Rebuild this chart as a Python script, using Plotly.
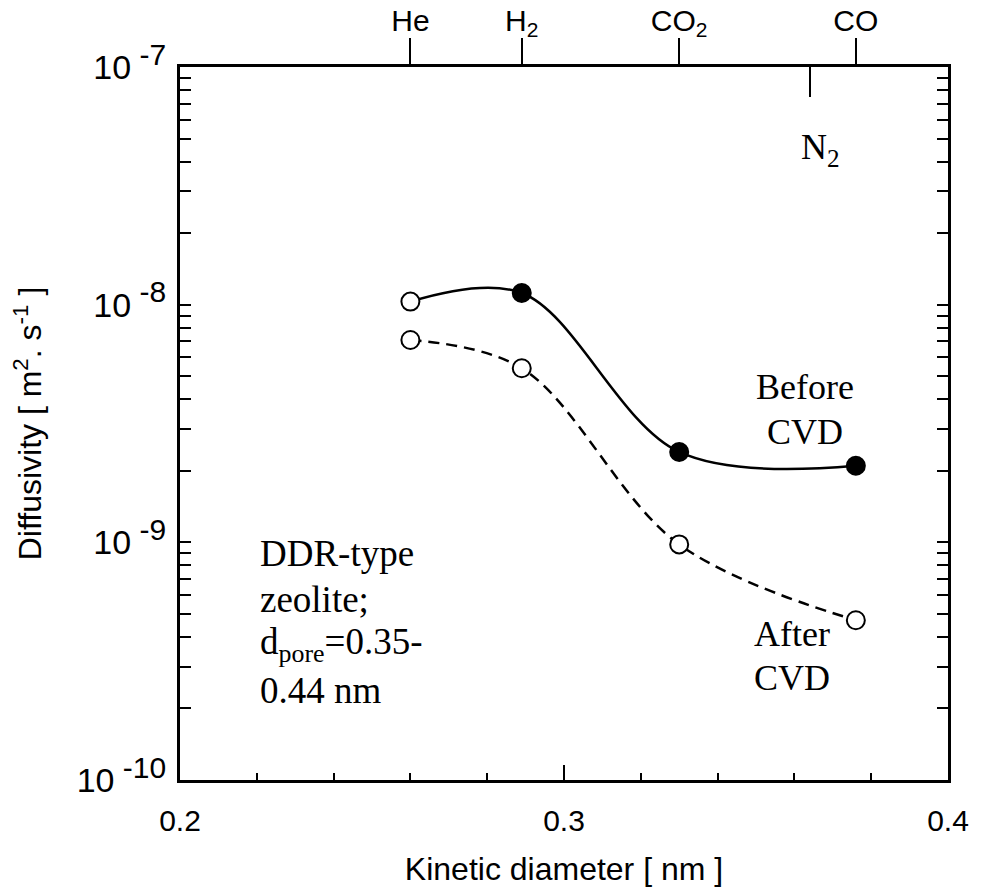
import plotly.graph_objects as go

gases = ["He", "H<sub>2</sub>", "CO<sub>2</sub>", "CO"]
kinetic_diameter = [0.26, 0.289, 0.33, 0.376]
before_cvd = [1.03e-8, 1.12e-8, 2.4e-9, 2.1e-9]
after_cvd = [7.1e-9, 5.4e-9, 9.8e-10, 4.7e-10]
before_fill = ["white", "black", "black", "black"]
n2_diameter = [0.364]
y_tickvals = [1e-10, 1e-9, 1e-8, 1e-7]
y_exponents = ["-10", "-9", "-8", "-7"]
y_ticktext = ["10<sup><span style='font-size:30px'> " + e + "</span></sup>" for e in y_exponents]
y_minor = [m * d for d in [1e-10, 1e-9, 1e-8] for m in range(2, 10)]
x_minor = [0.22, 0.24, 0.26, 0.28, 0.32, 0.34, 0.36, 0.38]

SANS = "Liberation Sans, Arial, sans-serif"
SERIF = "Liberation Serif, Times New Roman, serif"

fig = go.Figure()

fig.add_trace(go.Scatter(
    x=kinetic_diameter, y=before_cvd, mode="lines+markers",
    line=dict(color="black", width=2.5, shape="spline", smoothing=1),
    marker=dict(size=18, color=before_fill, line=dict(color="black", width=2)),
    showlegend=False,
))
fig.add_trace(go.Scatter(
    x=kinetic_diameter, y=after_cvd, mode="lines+markers",
    line=dict(color="black", width=2.5, shape="spline", smoothing=1, dash="11px,7px"),
    marker=dict(size=18, color="white", line=dict(color="black", width=2)),
    showlegend=False,
))
# invisible traces to activate top axes
fig.add_trace(go.Scatter(x=kinetic_diameter, y=before_cvd, xaxis="x2", mode="markers",
                         marker=dict(opacity=0), showlegend=False, hoverinfo="skip"))
fig.add_trace(go.Scatter(x=n2_diameter, y=[1e-8], xaxis="x3", mode="markers",
                         marker=dict(opacity=0), showlegend=False, hoverinfo="skip"))

fig.update_layout(
    width=1004, height=888,
    margin=dict(l=180, r=56, t=67, b=108),
    plot_bgcolor="white", paper_bgcolor="white",
    font=dict(family=SANS, color="black"),
    xaxis=dict(
        range=[0.2, 0.4], tickvals=[0.2, 0.3, 0.4], ticktext=["0.2", "0.3", "0.4"],
        ticks="inside", ticklen=15, tickwidth=2, tickcolor="black",
        minor=dict(tickvals=x_minor, ticks="inside", ticklen=7, tickwidth=2, tickcolor="black"),
        showline=True, linecolor="black", linewidth=3, mirror=True,
        showgrid=False, zeroline=False, automargin=False,
        tickfont=dict(size=30, family=SANS), ticklabelstandoff=12,
        title=dict(text="Kinetic diameter [ nm ]", font=dict(size=32, family=SANS), standoff=22),
    ),
    xaxis2=dict(
        overlaying="x", side="top", anchor="y", range=[0.2, 0.4],
        tickvals=kinetic_diameter, ticktext=gases,
        ticks="outside", ticklen=28, tickwidth=2, tickcolor="black",
        showline=False, showgrid=False, zeroline=False, automargin=False,
        tickfont=dict(size=30, family=SANS), ticklabelstandoff=-5,
    ),
    xaxis3=dict(
        overlaying="x", side="top", anchor="y", range=[0.2, 0.4],
        tickvals=n2_diameter, ticktext=[""],
        ticks="inside", ticklen=30, tickwidth=2, tickcolor="black",
        showline=False, showgrid=False, zeroline=False, showticklabels=False, automargin=False,
    ),
    yaxis=dict(
        type="log", range=[-10, -7],
        tickvals=y_tickvals, ticktext=y_ticktext,
        ticks="inside", ticklen=11, tickwidth=2, tickcolor="black",
        minor=dict(tickvals=y_minor, ticks="inside", ticklen=9, tickwidth=2, tickcolor="black", showgrid=False),
        showline=True, linecolor="black", linewidth=3, mirror="allticks",
        showgrid=False, zeroline=False, automargin=False,
        tickfont=dict(size=34, family=SANS), ticklabelstandoff=4,
        title=dict(text="Diffusivity [ m<sup>2</sup>. s<sup>-1</sup> ]", font=dict(size=32, family=SANS), standoff=26),
    ),
)

ann_font = dict(family=SERIF, size=36)
# Before CVD
fig.add_annotation(x=0.3628, y=-8.345, text="Before", showarrow=False, font=ann_font)
fig.add_annotation(x=0.3628, y=-8.535, text="CVD", showarrow=False, font=ann_font)
# After CVD
fig.add_annotation(x=0.3595, y=-9.385, text="After", showarrow=False, font=ann_font)
fig.add_annotation(x=0.3595, y=-9.570, text="CVD", showarrow=False, font=ann_font)
# N2 label
fig.add_annotation(x=0.3667, y=-7.345, text="N<sub>2</sub>", showarrow=False, font=ann_font)
# DDR text
ddr_lines = ["DDR-type", "zeolite;", "d<sub>pore</sub>=0.35-", "0.44 nm"]
ddr_y = [-9.045, -9.240, -9.430, -9.625]
for txt, yy in zip(ddr_lines, ddr_y):
    fig.add_annotation(x=0.2203, y=yy, text=txt, showarrow=False, xanchor="left",
                       font=dict(family=SERIF, size=37))

fig.write_html("out.html")
